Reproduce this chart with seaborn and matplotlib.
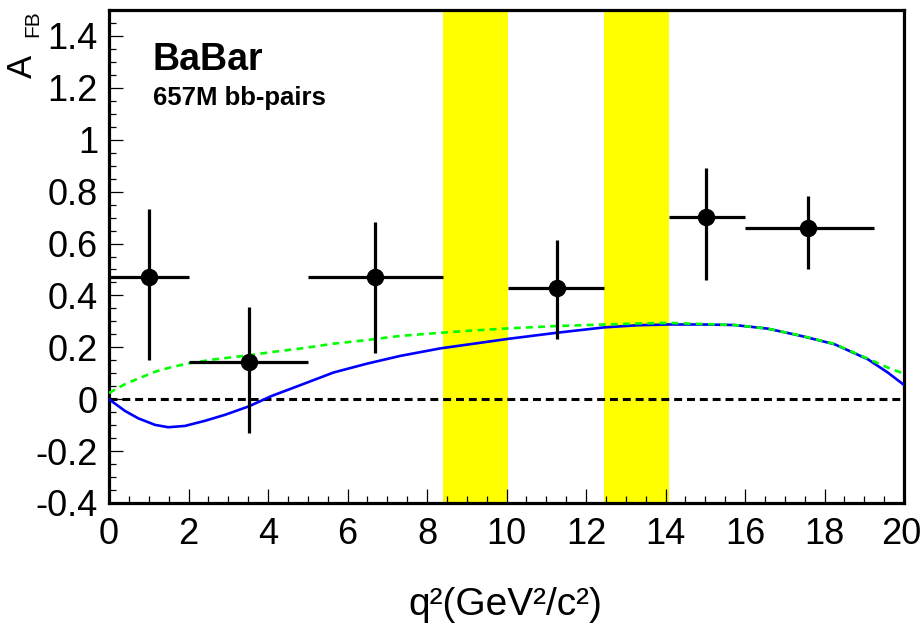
import numpy as np
import pandas as pd
import matplotlib
matplotlib.use("Agg")
import matplotlib.pyplot as plt
from matplotlib.ticker import MultipleLocator, FixedLocator
from matplotlib.transforms import ScaledTranslation
import seaborn as sns

# ---- data ----
bin_lo = [0.0, 2.0, 5.0, 10.05, 14.1, 16.0]
bin_hi = [2.0, 5.0, 8.4, 12.45, 16.0, 19.25]
x_c = [1.0, 3.52, 6.70, 11.26, 15.03, 17.59]
afb = [0.472, 0.142, 0.472, 0.430, 0.703, 0.660]
afb_up = [0.733, 0.354, 0.683, 0.614, 0.891, 0.782]
afb_dn = [0.150, -0.131, 0.180, 0.231, 0.459, 0.500]

sm_x = [0.0, 0.40, 0.74, 1.16, 1.49, 1.91, 2.42, 2.92, 3.51, 4.10, 4.81, 5.65, 6.49, 7.33,
        8.34, 9.18, 10.06, 11.26, 12.47, 13.3, 14.1, 14.89, 15.73, 16.57, 17.41, 18.25,
        19.09, 19.59, 20.0]
sm_y = [0.0, -0.045, -0.074, -0.099, -0.108, -0.103, -0.083, -0.06, -0.028, 0.013, 0.054,
        0.103, 0.137, 0.167, 0.196, 0.214, 0.233, 0.256, 0.277, 0.285, 0.288, 0.288, 0.286,
        0.272, 0.244, 0.212, 0.154, 0.103, 0.055]

alt_x = [0.0, 0.40, 0.74, 1.16, 1.58, 2.0, 2.67, 3.51, 4.10, 4.85, 5.65, 6.49, 7.33, 8.34,
         9.18, 10.06, 11.26, 12.47, 13.3, 14.1, 14.89, 15.73, 16.57, 17.41, 18.25, 19.09,
         19.59, 20.0]
alt_y = [0.024, 0.058, 0.08, 0.106, 0.124, 0.138, 0.154, 0.169, 0.182, 0.196, 0.214, 0.228,
         0.244, 0.256, 0.265, 0.273, 0.282, 0.288, 0.292, 0.294, 0.290, 0.286, 0.272, 0.245,
         0.213, 0.156, 0.122, 0.098]

veto_bands = [(8.4, 10.05), (12.45, 14.1)]

xticks = [0, 2, 4, 6, 8, 10, 12, 14, 16, 18, 20]
yticks = [-0.4, -0.2, 0, 0.2, 0.4, 0.6, 0.8, 1, 1.2, 1.4]
ytick_labels = ["-0.4", "-0.2", "0", "0.2", "0.4", "0.6", "0.8", "1", "1.2", "1.4"]

sns.set_style("ticks", {'text.color': 'black', 'xtick.color': 'black', 'ytick.color': 'black',
                        'axes.edgecolor': 'black', 'axes.labelcolor': 'black'})
plt.rcParams['font.family'] = ['Liberation Sans', 'DejaVu Sans']

fig = plt.figure(figsize=(9.22, 6.39), dpi=100)
ax = fig.add_axes([109/922, 1-503/639, (904-109)/922, (503-10)/639])

for lo, hi in veto_bands:
    ax.axvspan(lo, hi, color='#ffff00', lw=0, zorder=0)

ax.axhline(0, color='black', lw=2.2, ls=(0, (2.6, 1.6)), zorder=2)

sm = pd.DataFrame({'q2': sm_x, 'afb': sm_y})
alt = pd.DataFrame({'q2': alt_x, 'afb': alt_y})
sns.lineplot(data=sm, x='q2', y='afb', ax=ax, color='#0000ff', lw=1.9, zorder=3)
sns.lineplot(data=alt, x='q2', y='afb', ax=ax, color='#00ff00', lw=1.9, ls=(0, (2.6, 2.0)), zorder=3.5)

xc = np.array(x_c); y = np.array(afb)
xerr = [xc - np.array(bin_lo), np.array(bin_hi) - xc]
yerr = [y - np.array(afb_dn), np.array(afb_up) - y]
ax.errorbar(xc, y, xerr=xerr, yerr=yerr, fmt='none', ecolor='black', elinewidth=2.3, capsize=0, zorder=4)
sns.scatterplot(x=x_c, y=afb, ax=ax, color='black', s=135, edgecolor='black', zorder=5)

ax.set_xlim(0, 20)
ax.set_ylim(-0.4, 1.5)
ax.xaxis.set_major_locator(FixedLocator(xticks))
ax.xaxis.set_minor_locator(MultipleLocator(0.5))
ax.yaxis.set_major_locator(FixedLocator(yticks))
ax.set_yticklabels(ytick_labels)
ax.yaxis.set_minor_locator(MultipleLocator(0.05))
ax.tick_params(which='both', direction='in', top=False, right=False, width=0.9, colors='black')
ax.tick_params(which='major', length=10, pad=8, labelsize=26)
ax.tick_params(which='minor', length=5)
ax.tick_params(axis='x', which='major', pad=10)
last = ax.get_xticklabels()[-1]
last.set_transform(last.get_transform() + ScaledTranslation(-3/100, 0, fig.dpi_scale_trans))
for s in ax.spines.values():
    s.set_linewidth(2.3)
    s.set_color('black')
    s.set_visible(True)
ax.set_xlabel('')
ax.set_ylabel('')

fig.text(505/922, 1-605/639, 'q²(GeV²/c²)', ha='center', va='center', fontsize=28)
fig.text(22/922, 1-66/639, 'A', ha='center', va='center', rotation=90, fontsize=25)
fig.text(33/922, 1-24/639, 'FB', ha='center', va='center', rotation=90, fontsize=15)

ax.text(0.055, 0.878, 'BaBar', transform=ax.transAxes, fontsize=27, fontweight='bold', ha='left', va='baseline')
ax.text(0.055, 0.807, '657M bb-pairs', transform=ax.transAxes, fontsize=18.5, fontweight='bold', ha='left', va='baseline')

fig.savefig('out.png', dpi=100)
